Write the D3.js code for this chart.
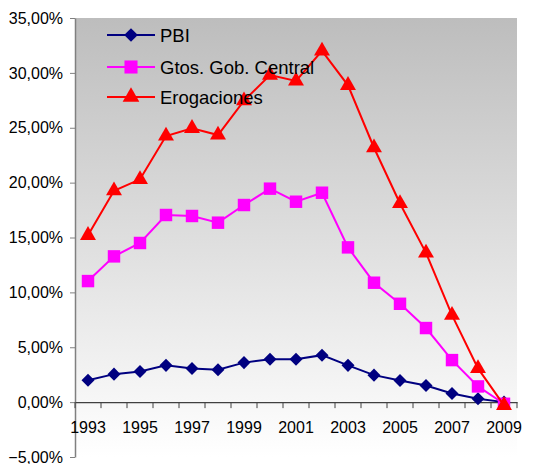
<!DOCTYPE html>
<html><head><meta charset="utf-8">
<script src="https://cdn.jsdelivr.net/npm/d3@7"></script>
<style>body{margin:0;background:#fff}svg{display:block}text{font-family:"Liberation Sans",Arial,sans-serif}</style>
</head><body><svg id="c" width="536" height="464"></svg>
<script>
const years = ["1993","1994","1995","1996","1997","1998","1999","2000","2001","2002","2003","2004","2005","2006","2007","2008","2009"];
const tickYears = ["1993","1995","1997","1999","2001","2003","2005","2007","2009"];
const pbi = [2.0,2.55,2.8,3.35,3.07,2.95,3.6,3.9,3.9,4.28,3.35,2.46,1.98,1.52,0.79,0.3,0.0];
const gtos = [11.03,13.28,14.5,17.05,16.96,16.35,17.96,19.45,18.26,19.08,14.1,10.88,8.96,6.75,3.83,1.43,-0.15];
const erog = [15.2,19.26,20.3,24.25,24.95,24.34,27.47,29.8,29.26,32.0,28.87,23.18,18.1,13.6,7.93,3.07,-0.3];
const yTicks = [-5,0,5,10,15,20,25,30,35];
const seriesNames = ["PBI","Gtos. Gob. Central","Erogaciones"];

const svg = d3.select("#c");
const L=75,R=517,T=18,B=457;
const x = d3.scaleBand().domain(years).range([L,R]);
const y = d3.scaleLinear().domain([-5,35]).range([B,T]);
const cx = d => x(d)+x.bandwidth()/2;
const loc = d3.formatLocale({decimal:",",thousands:".",grouping:[3],currency:["",""]});
const fmt = v => loc.format(".2f")(v)+"%";

const defs = svg.append("defs");
const g = defs.append("linearGradient").attr("id","bg").attr("x1",0).attr("y1",0).attr("x2",0).attr("y2",1);
g.append("stop").attr("offset","0%").attr("stop-color","#bdbdbd");
g.append("stop").attr("offset","100%").attr("stop-color","#ffffff");
svg.append("rect").attr("x",L).attr("y",T).attr("width",R-L).attr("height",B-T).attr("fill","url(#bg)");

// y axis
const ya = svg.append("g").attr("transform",`translate(${L},0)`)
  .call(d3.axisLeft(y).tickValues(yTicks).tickFormat(fmt).tickSize(5).tickSizeOuter(0).tickPadding(7));
ya.select(".domain").attr("stroke","#808080").attr("stroke-width",1.5);
ya.selectAll(".tick line").attr("stroke","#808080");
ya.selectAll("text").attr("font-size",16).attr("fill","#000").attr("font-family","Liberation Sans, Arial, sans-serif");

// x axis at 0
const y0 = y(0);
const xa = svg.append("g").attr("transform",`translate(0,${y0})`)
  .call(d3.axisBottom(x).tickValues(tickYears).tickSize(0).tickSizeOuter(0).tickPadding(20));
xa.select(".domain").attr("stroke","#404040").attr("stroke-width",1.2);
xa.selectAll(".tick line").remove();
xa.selectAll("text").attr("font-size",16).attr("fill","#000").attr("font-family","Liberation Sans, Arial, sans-serif");
const bounds = years.map(d=>x(d)).concat([x(years[years.length-1])+x.bandwidth()]);
svg.append("g").selectAll("line").data(bounds).join("line")
  .attr("x1",d=>d).attr("x2",d=>d).attr("y1",y0).attr("y2",y0+6).attr("stroke","#404040");

const diamond = {draw(ctx,size){const r=Math.sqrt(size)/2;ctx.moveTo(0,-r);ctx.lineTo(r,0);ctx.lineTo(0,r);ctx.lineTo(-r,0);ctx.closePath();}};
const line = d3.line().x((d,i)=>cx(years[i])).y(d=>y(d));
const styles = [
  {data:pbi,color:"#000080",sym:diamond,size:170},
  {data:gtos,color:"#ff00ff",sym:d3.symbolSquare,size:155},
  {data:erog,color:"#ff0000",sym:d3.symbolTriangle,size:110}
];
styles.forEach(s=>{
  svg.append("path").datum(s.data).attr("d",line).attr("fill","none").attr("stroke",s.color).attr("stroke-width",2);
  svg.append("g").selectAll("path").data(s.data).join("path")
    .attr("transform",(d,i)=>`translate(${cx(years[i])},${y(d)})`)
    .attr("d",d3.symbol().type(s.sym).size(s.size)).attr("fill",s.color);
});

// legend
const lg = svg.append("g");
const rows = [35,67,97];
styles.forEach((s,i)=>{
  const yy = rows[i];
  lg.append("line").attr("x1",107).attr("x2",155).attr("y1",yy).attr("y2",yy).attr("stroke",s.color).attr("stroke-width",2);
  lg.append("path").attr("transform",`translate(131,${yy})`).attr("d",d3.symbol().type(s.sym).size(s.size*1.1)).attr("fill",s.color);
  lg.append("text").attr("x",160).attr("y",yy).attr("dy","0.36em").attr("font-size",18.5).attr("fill","#000").text(seriesNames[i]);
});
</script></body></html>
